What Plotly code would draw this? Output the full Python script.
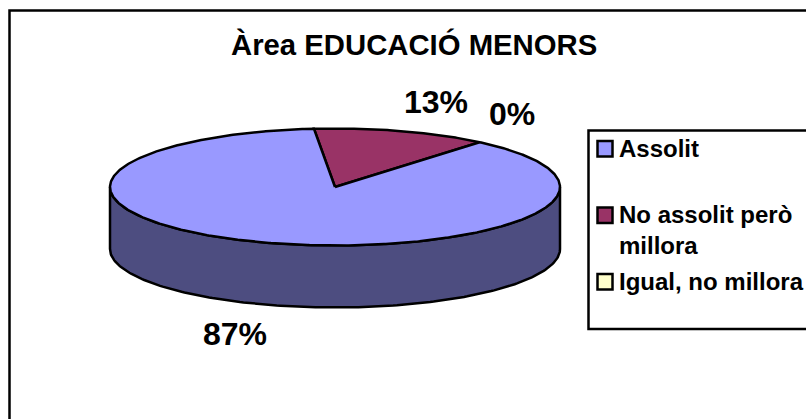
import numpy as np
import plotly.graph_objects as go

title = "Àrea EDUCACIÓ MENORS"
categories = ["Assolit", "No assolit però<br>millora", "Igual, no millora"]
values = [87.4, 12.6, 0.0]
colors = ["#9999FF", "#993366", "#FFFFCC"]
side_colors = ["#4D4D80", "#4D1A33", "#808066"]
pct_labels = ["87%", "13%", "0%"]

W, H = 806, 419
CX, CY, RX, RY, DEPTH = 335, 187, 225, 58.5, 62
START_DEG = 40
FONT = "Liberation Sans, Arial, sans-serif"
LW = 2.5

def pt(deg, dy=0):
    a = np.radians(deg)
    return CX + RX * np.sin(a), CY - RY * np.cos(a) + dy

fig = go.Figure()

total = sum(values)
spans = []
cur = START_DEG
for v in values:
    s = v / total * 360
    spans.append((cur, cur + s))
    cur += s

# side wall (front half of the disc only)
for (a0, a1), sc in zip(spans, side_colors):
    lo, hi = max(a0, 90), min(a1, 270)
    if hi <= lo:
        continue
    t = np.linspace(lo, hi, 181)
    xt, yt = pt(t)
    xb, yb = pt(t[::-1], DEPTH)
    fig.add_trace(go.Scatter(x=np.r_[xt, xb, xt[0]], y=np.r_[yt, yb, yt[0]], mode="lines",
                             fill="toself", fillcolor=sc, line=dict(color="black", width=LW),
                             hoverinfo="skip", showlegend=False))

# top face
order = sorted(range(len(values)), key=lambda i: values[i])
for i in order:
    a0, a1 = spans[i]
    t = np.linspace(a0, a1, max(2, int(a1 - a0) * 2))
    x, y = pt(t)
    fig.add_trace(go.Scatter(x=np.r_[CX, x, CX], y=np.r_[CY, y, CY], mode="lines",
                             fill="toself", fillcolor=colors[i], line=dict(color="black", width=LW),
                             hoverinfo="skip", showlegend=False))

shapes = [
    dict(type="rect", x0=9.5, y0=10.5, x1=830, y1=440, line=dict(color="black", width=LW), layer="below"),
    dict(type="rect", x0=588.5, y0=130.5, x1=830, y1=329, line=dict(color="black", width=LW), layer="below"),
]
ann = [dict(x=414, y=44, text=f"<b>{title}</b>", font_size=29.3)]
for txt, x, y in zip(pct_labels, (235, 436, 512), (334, 102, 114)):
    ann.append(dict(x=x, y=y, text=f"<b>{txt}</b>", font_size=32))

for i, (cat, col, yy, ty) in enumerate(zip(categories, colors, (149, 215.5, 282), (148, 230, 281))):
    shapes.append(dict(type="rect", x0=597.5, y0=yy - 8, x1=612.5, y1=yy + 7.5,
                       fillcolor=col, line=dict(color="black", width=LW)))
    ann.append(dict(x=617, y=ty, text=f"<b>{cat}</b>", font_size=24, xanchor="left", align="left"))

for a in ann:
    size = a.pop("font_size")
    a.update(xref="x", yref="y", showarrow=False, font=dict(family=FONT, size=size, color="black"))
    a.setdefault("xanchor", "center")
    a["yanchor"] = "middle"

fig.update_layout(width=W, height=H, margin=dict(l=0, r=0, t=0, b=0),
                  paper_bgcolor="white", plot_bgcolor="white", shapes=shapes, annotations=ann,
                  xaxis=dict(range=[0, W], visible=False, fixedrange=True),
                  yaxis=dict(range=[H, 0], visible=False, fixedrange=True), hovermode=False)
fig.write_html("out.html", config=dict(displayModeBar=False),
               post_script="document.body.style.margin='0';document.documentElement.style.overflow='hidden';")
